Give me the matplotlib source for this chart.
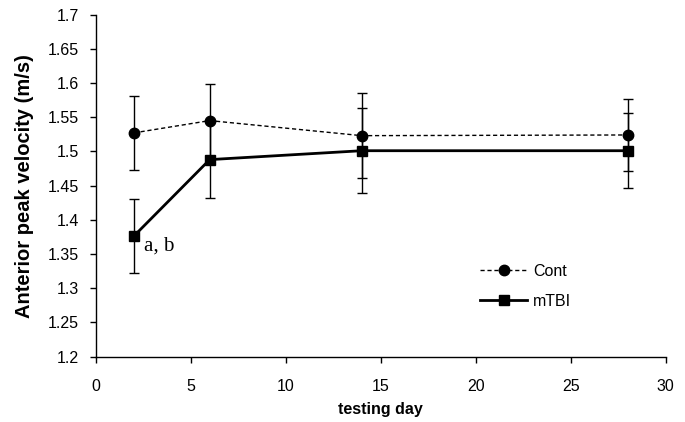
import numpy as np
import matplotlib.pyplot as plt
from matplotlib.lines import Line2D

plt.rcParams['font.family'] = ['Liberation Sans', 'DejaVu Sans']

# data
days = [2, 6, 14, 28]
cont_mean = [1.527, 1.545, 1.523, 1.524]
cont_err = [0.054, 0.054, 0.062, 0.053]
mtbi_mean = [1.376, 1.488, 1.501, 1.501]
mtbi_err = [0.054, 0.056, 0.062, 0.055]

x_ticks = [0, 5, 10, 15, 20, 25, 30]
y_ticks = [1.2, 1.25, 1.3, 1.35, 1.4, 1.45, 1.5, 1.55, 1.6, 1.65, 1.7]
y_tick_labels = ['1.2', '1.25', '1.3', '1.35', '1.4', '1.45', '1.5', '1.55', '1.6', '1.65', '1.7']

fig = plt.figure(figsize=(6.85, 4.22), dpi=100)
ax = fig.add_axes([0.1397, 0.1547, 0.8321, 0.8109])

cont_style = dict(color='black', linestyle=(0, (3, 2)), linewidth=1, marker='o', markersize=7.5)
mtbi_style = dict(color='black', linestyle='-', linewidth=2, marker='s', markersize=6.5)

# control group: thin dashed line with circles
ax.errorbar(days, cont_mean, yerr=cont_err, elinewidth=1, capsize=3.5, capthick=1,
            zorder=3, **cont_style)
# mTBI group: thick solid line with squares
ax.errorbar(days, mtbi_mean, yerr=mtbi_err, elinewidth=1, capsize=3.5, capthick=1,
            zorder=4, **mtbi_style)

ax.text(2.55, 1.361, 'a, b', family='Liberation Serif', fontsize=15, va='center', ha='left')

ax.set_xlim(0, 30)
ax.set_ylim(1.2, 1.7)
ax.set_xticks(x_ticks)
ax.set_yticks(y_ticks)
ax.set_yticklabels(y_tick_labels)
ax.tick_params(direction='out', length=4, width=1, labelsize=11.5, pad=8)
ax.tick_params(axis='x', pad=12)
for s in ['top', 'right']:
    ax.spines[s].set_visible(False)
for s in ['left', 'bottom']:
    ax.spines[s].set_linewidth(1)

ax.set_xlabel('testing day', fontsize=11.5, fontweight='bold', labelpad=6)
ax.set_ylabel('Anterior peak velocity (m/s)', fontsize=14.5, fontweight='bold', labelpad=10)

handles = [Line2D([], [], **cont_style), Line2D([], [], **mtbi_style)]
ax.legend(handles, ['Cont', 'mTBI'], loc='center left', bbox_to_anchor=(0.675, 0.206),
          frameon=False, fontsize=11.5, handlelength=2.9, handletextpad=0.4,
          labelspacing=0.95, borderpad=0, borderaxespad=0)

fig.savefig('out.png', dpi=100)
